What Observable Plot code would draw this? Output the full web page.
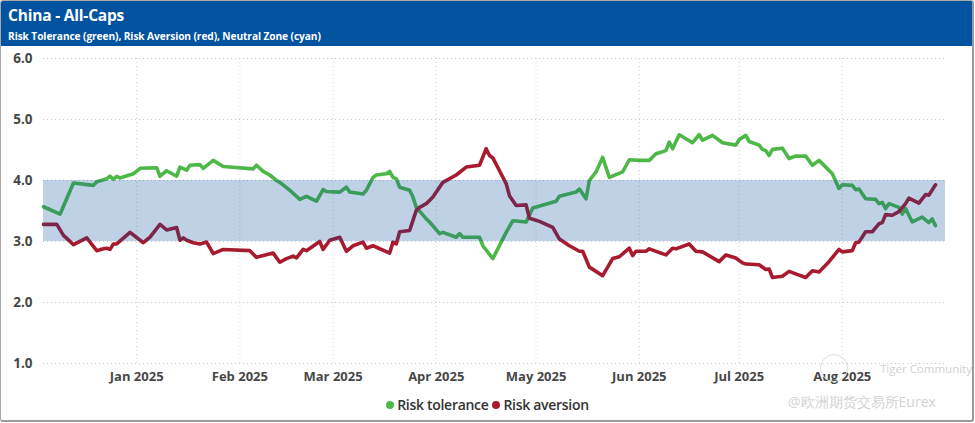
<!DOCTYPE html>
<html>
<head>
<meta charset="utf-8">
<script src="https://cdn.jsdelivr.net/npm/d3@7"></script>
<script src="https://cdn.jsdelivr.net/npm/@observablehq/plot@0.6"></script>
<style>
  html, body { margin: 0; padding: 0; background: #fff; }
  #wrap { position: relative; width: 975px; height: 423px; overflow: hidden; font-family: "Open Sans", sans-serif; }
  #header { position: absolute; left: 1px; top: 1px; width: 971px; height: 45px; background: #01529f; color: #fff; }
  #title { position: absolute; left: 7px; top: 3px; font-size: 15.5px; font-weight: 700; letter-spacing: -0.2px; }
  #subtitle { position: absolute; left: 7px; top: 28px; font-size: 10.2px; font-weight: 700; letter-spacing: -0.1px; }
  #chart { position: absolute; left: 0; top: 46px; }
  #legend { position: absolute; left: 0; width: 975px; top: 395px; text-align: center; font-size: 14px; font-weight: 600; color: #333; letter-spacing: -0.3px; }
  #legend .dot { display: inline-block; width: 8px; height: 8px; border-radius: 50%; margin-right: 3px; vertical-align: 1px; }
  #legend .item { margin: 0 2px; }
  #frame { position: absolute; left: 0; top: 0; width: 971px; height: 419px; border: 1px solid #a9a9a9; border-right: 2px solid #9a9a9a; border-bottom: 2px solid #9a9a9a; border-radius: 3px; pointer-events: none; }
  .wm { position: absolute; color: #d2d2d2; white-space: nowrap; }
</style>
</head>
<body>
<div id="wrap">
  <div id="header">
    <div id="title">China - All-Caps</div>
    <div id="subtitle">Risk Tolerance (green), Risk Aversion (red), Neutral Zone (cyan)</div>
  </div>
  <div id="chart"></div>
  <div id="legend"></div>
  <div class="wm" style="left:820px;top:354px;width:26px;height:26px;border:1px solid #ddd;border-radius:50%;"></div>
  <div class="wm" style="left:880px;top:361px;font-size:11.5px;">Tiger Community</div>
  <div class="wm" style="left:788px;top:392px;font-size:14px;">@欧洲期货交易所Eurex</div>
  <div id="frame"></div>
</div>
<script>
// ---- data ----
const toleranceDates = [
  "2024-12-04","2024-12-09","2024-12-13","2024-12-19","2024-12-20","2024-12-23","2024-12-24","2024-12-25","2024-12-26","2024-12-27","2024-12-31",
  "2025-01-02","2025-01-07","2025-01-08","2025-01-10","2025-01-13","2025-01-14","2025-01-16","2025-01-17","2025-01-20","2025-01-21","2025-01-24","2025-01-27",
  "2025-02-05","2025-02-06","2025-02-08","2025-02-10","2025-02-12","2025-02-13","2025-02-16","2025-02-19","2025-02-21","2025-02-24","2025-02-26","2025-02-27",
  "2025-03-03","2025-03-05","2025-03-06","2025-03-10","2025-03-11","2025-03-13","2025-03-14","2025-03-17","2025-03-18","2025-03-19","2025-03-20","2025-03-21","2025-03-24","2025-03-25","2025-03-26","2025-03-29","2025-03-30",
  "2025-04-02","2025-04-03","2025-04-07","2025-04-08","2025-04-09","2025-04-14","2025-04-15","2025-04-18","2025-04-22","2025-04-24","2025-04-28","2025-04-30",
  "2025-05-07","2025-05-08","2025-05-13","2025-05-14","2025-05-16","2025-05-17","2025-05-19","2025-05-21","2025-05-23","2025-05-27","2025-05-29",
  "2025-06-01","2025-06-04","2025-06-06","2025-06-09","2025-06-10","2025-06-11","2025-06-13","2025-06-17","2025-06-19","2025-06-20","2025-06-23","2025-06-26","2025-06-30",
  "2025-07-01","2025-07-03","2025-07-04","2025-07-07","2025-07-08","2025-07-09","2025-07-10","2025-07-11","2025-07-14","2025-07-16","2025-07-18","2025-07-21","2025-07-23","2025-07-25","2025-07-29","2025-07-31",
  "2025-08-01","2025-08-04","2025-08-05","2025-08-06","2025-08-08","2025-08-11","2025-08-12","2025-08-13","2025-08-14","2025-08-15","2025-08-18","2025-08-19","2025-08-20","2025-08-22","2025-08-25","2025-08-27","2025-08-28","2025-08-29"
];
const toleranceValues = [
  3.57,3.45,3.96,3.92,3.98,4.03,4.07,4.02,4.07,4.04,4.11,
  4.20,4.21,4.07,4.16,4.07,4.22,4.17,4.25,4.26,4.20,4.33,4.23,
  4.19,4.25,4.15,4.09,4.00,3.97,3.84,3.69,3.74,3.66,3.85,3.82,
  3.81,3.89,3.81,3.78,3.84,4.05,4.09,4.11,4.15,4.05,4.03,3.89,3.84,3.73,3.56,3.37,3.32,
  3.13,3.15,3.07,3.13,3.07,3.07,2.93,2.72,3.15,3.34,3.32,3.55,
  3.66,3.74,3.81,3.86,3.70,4.00,4.14,4.38,4.05,4.14,4.34,
  4.33,4.33,4.44,4.49,4.63,4.52,4.75,4.62,4.75,4.66,4.74,4.62,4.58,
  4.67,4.74,4.64,4.58,4.51,4.49,4.41,4.51,4.53,4.36,4.40,4.40,4.25,4.33,4.11,3.87,
  3.93,3.92,3.85,3.86,3.70,3.69,3.62,3.64,3.54,3.62,3.56,3.45,3.54,3.32,3.40,3.31,3.37,3.26
];
const aversionDates = [
  "2024-12-04","2024-12-08","2024-12-10","2024-12-13","2024-12-17","2024-12-20","2024-12-22","2024-12-23","2024-12-24","2024-12-25","2024-12-26","2024-12-30",
  "2025-01-03","2025-01-05","2025-01-08","2025-01-10","2025-01-13","2025-01-14","2025-01-15","2025-01-16","2025-01-18","2025-01-20","2025-01-22","2025-01-24","2025-01-27",
  "2025-02-04","2025-02-06","2025-02-11","2025-02-13","2025-02-15","2025-02-17","2025-02-18","2025-02-20","2025-02-21","2025-02-25","2025-02-26","2025-02-28",
  "2025-03-03","2025-03-05","2025-03-07","2025-03-10","2025-03-11","2025-03-13","2025-03-18","2025-03-19","2025-03-20","2025-03-21","2025-03-24","2025-03-26","2025-03-27","2025-03-29","2025-03-31",
  "2025-04-03","2025-04-07","2025-04-10","2025-04-14","2025-04-16","2025-04-17","2025-04-18","2025-04-20","2025-04-22","2025-04-23","2025-04-25","2025-04-28","2025-04-29",
  "2025-05-02","2025-05-06","2025-05-08","2025-05-11","2025-05-14","2025-05-15","2025-05-17","2025-05-21","2025-05-24","2025-05-26","2025-05-29","2025-05-30","2025-05-31",
  "2025-06-03","2025-06-04","2025-06-09","2025-06-11","2025-06-12","2025-06-16","2025-06-18","2025-06-20","2025-06-25","2025-06-27","2025-06-30",
  "2025-07-02","2025-07-03","2025-07-07","2025-07-09","2025-07-10","2025-07-11","2025-07-14","2025-07-16","2025-07-18","2025-07-21","2025-07-23","2025-07-25","2025-07-28","2025-07-31",
  "2025-08-01","2025-08-04","2025-08-05","2025-08-06","2025-08-08","2025-08-10","2025-08-12","2025-08-13","2025-08-14","2025-08-16","2025-08-18","2025-08-20","2025-08-21","2025-08-24","2025-08-26","2025-08-27","2025-08-29"
];
const aversionValues = [
  3.28,3.28,3.10,2.95,3.06,2.85,2.88,2.89,2.87,2.96,2.96,3.15,
  2.98,3.07,3.28,3.19,3.23,3.02,3.06,3.02,2.98,2.96,2.99,2.80,2.87,
  2.85,2.74,2.81,2.66,2.72,2.76,2.73,2.87,2.85,3.00,2.87,3.02,
  3.07,2.84,2.93,2.99,2.89,2.93,2.81,2.99,2.96,3.16,3.18,3.51,3.56,3.62,3.73,
  3.97,4.09,4.22,4.25,4.52,4.41,4.37,4.16,3.95,3.75,3.59,3.60,3.38,
  3.33,3.23,3.04,2.93,2.84,2.84,2.58,2.44,2.72,2.75,2.89,2.77,2.84,
  2.84,2.88,2.78,2.89,2.88,2.96,2.84,2.83,2.67,2.78,2.73,
  2.65,2.63,2.62,2.54,2.55,2.41,2.43,2.51,2.47,2.41,2.52,2.50,2.67,2.87,
  2.83,2.85,2.98,2.99,3.16,3.16,3.29,3.31,3.44,3.43,3.49,3.62,3.71,3.63,3.77,3.76,3.93
];
const neutralZone = [3, 4];
const xDomain = ["2024-12-04", "2025-09-01"];
const monthTicks = ["2025-01-01","2025-02-01","2025-03-01","2025-04-01","2025-05-01","2025-06-01","2025-07-01","2025-08-01"];
const yTicks = [1, 2, 3, 4, 5, 6];
const seriesNames = ["Risk tolerance", "Risk aversion"];
const seriesColors = ["#4db848", "#a81b2f"];

// ---- build ----
const parse = d3.utcParse("%Y-%m-%d");
const tolerance = toleranceDates.map((d, i) => ({date: parse(d), value: toleranceValues[i]}));
const aversion = aversionDates.map((d, i) => ({date: parse(d), value: aversionValues[i]}));
const zone = [{x1: parse(xDomain[0]), x2: parse(xDomain[1]), y1: neutralZone[0], y2: neutralZone[1]}];

const chart = Plot.plot({
  width: 975,
  height: 346,
  marginTop: 12,
  marginBottom: 29,
  marginLeft: 43,
  marginRight: 30,
  style: {fontFamily: "Open Sans, sans-serif", fontSize: "13px", fontWeight: 700, color: "#474747", background: "transparent"},
  x: {type: "utc", domain: xDomain.map(parse)},
  y: {domain: [1, 6]},
  marks: [
    Plot.gridY(yTicks, {stroke: "#c8c8c8", strokeOpacity: 1, strokeDasharray: "1,3", x1: () => parse(xDomain[0]), x2: () => parse(xDomain[1])}),
    Plot.gridX(monthTicks.map(parse), {stroke: "#d0d0d0", strokeOpacity: 1, strokeDasharray: "1,3"}),
    Plot.line(tolerance, {x: "date", y: "value", stroke: seriesColors[0], strokeWidth: 3.6, strokeLinejoin: "round", strokeLinecap: "round"}),
    Plot.line(aversion, {x: "date", y: "value", stroke: seriesColors[1], strokeWidth: 3.6, strokeLinejoin: "round", strokeLinecap: "round"}),
    Plot.rect(zone, {x1: "x1", x2: "x2", y1: "y1", y2: "y2", fill: "rgb(0,70,150)", fillOpacity: 0.25}),
    Plot.axisY(yTicks, {tickSize: 0, tickPadding: 11, tickFormat: d3.format(".1f"), fontSize: 13.5}),
    Plot.axisX(monthTicks.map(parse), {tickSize: 0, tickPadding: 8, tickFormat: d3.utcFormat("%b %Y"), fontSize: 13})
  ]
});
document.getElementById("chart").appendChild(chart);

const legend = document.getElementById("legend");
seriesNames.forEach((name, i) => {
  const item = document.createElement("span");
  item.className = "item";
  const dot = document.createElement("span");
  dot.className = "dot";
  dot.style.background = seriesColors[i];
  item.appendChild(dot);
  item.appendChild(document.createTextNode(name));
  legend.appendChild(item);
});
</script>
</body>
</html>
